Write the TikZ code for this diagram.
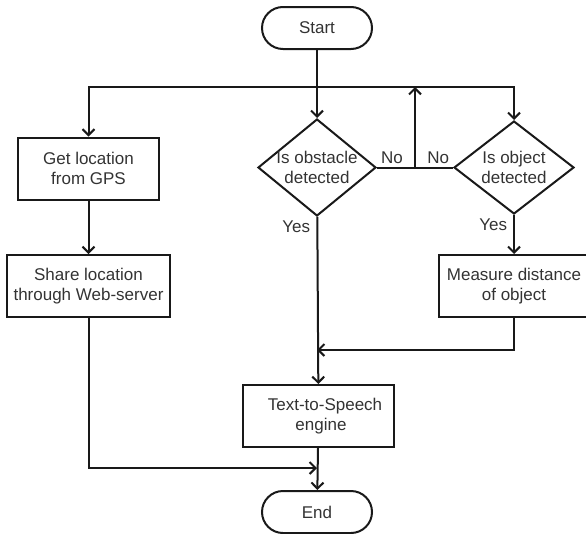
\documentclass[tikz,border=0pt]{standalone}
\usepackage{fontspec}
\setmainfont{Liberation Sans}
\usetikzlibrary{shapes.geometric, arrows.meta}

\tikzset{
  terminal/.style={draw, rounded corners=21pt, minimum width=110pt, minimum height=42pt},
  process/.style={draw, minimum height=62pt, align=center},
  decision/.style={draw, diamond, align=center, inner xsep=-4pt, inner ysep=0pt},
  flow/.style={-{Straight Barb[length=6pt,width=12pt]}},
  lbl/.style={inner sep=3pt}
}

\begin{document}
\begin{tikzpicture}[x=1pt, y=-1pt, line width=2pt, draw=black!90,
    font=\fontsize{17}{20.5}\selectfont, text=black!80]
    \useasboundingbox (0,0) rectangle (586,533);
    \clip (0,0) rectangle (586,533);

    % Blocks
    \node[terminal] (start) at (317,28) {Start};
    \node[process, minimum width=141pt] (gps) at (88.5,168.5) {Get location\\from GPS};
    \node[process, minimum width=163pt] (share) at (88.5,286) {Share location\\through Web-server};
    \node[decision, aspect=1.22, minimum width=118pt, minimum height=97pt] (obstacle) at (317,167.5) {Is obstacle\\detected};
    \node[decision, aspect=1.29, minimum width=120pt, minimum height=93pt] (object) at (514,167.5) {Is object\\detected};
    \node[process, minimum width=150pt] (measure) at (514,286) {Measure distance\\of object};
    \node[process, minimum width=151pt] (tts) at (318.5,416) {\hspace*{13pt}Text-to-Speech\\\hspace*{5pt}engine};
    \node[terminal] (stop) at (317,512) {End};

    % Branch points
    \coordinate (split) at (317,87);
    \coordinate (loop) at (415,167.5);
    \coordinate (merge) at (317,350);
    \coordinate (join) at (317,468);

    % Connectors
    \draw (start) -- (split);
    \draw[flow] (split) -- (obstacle);
    \draw[flow] (split) -| (gps);
    \draw[flow] (split) -| (object);
    \draw (obstacle) -- (object);
    \draw[flow] (loop) -- (loop |- split);
    \draw[flow] (gps) -- (share);
    \draw[flow] (obstacle) -- (tts);
    \draw[flow] (object) -- (measure);
    \draw[flow] (measure) |- (merge);
    \draw[flow] (tts) -- (stop);
    \draw[flow] (share) |- (join);

    % Branch labels
    \node[lbl, anchor=south west] (no1) at (obstacle.east) {No};
    \node[lbl, anchor=south east] (no2) at (object.west) {No};
    \node[lbl, anchor=north east, xshift=-3pt] (yes1) at (obstacle.south) {Yes};
    \node[lbl, anchor=north east, xshift=-3pt] (yes2) at (object.south) {Yes};
\end{tikzpicture}
\end{document}
